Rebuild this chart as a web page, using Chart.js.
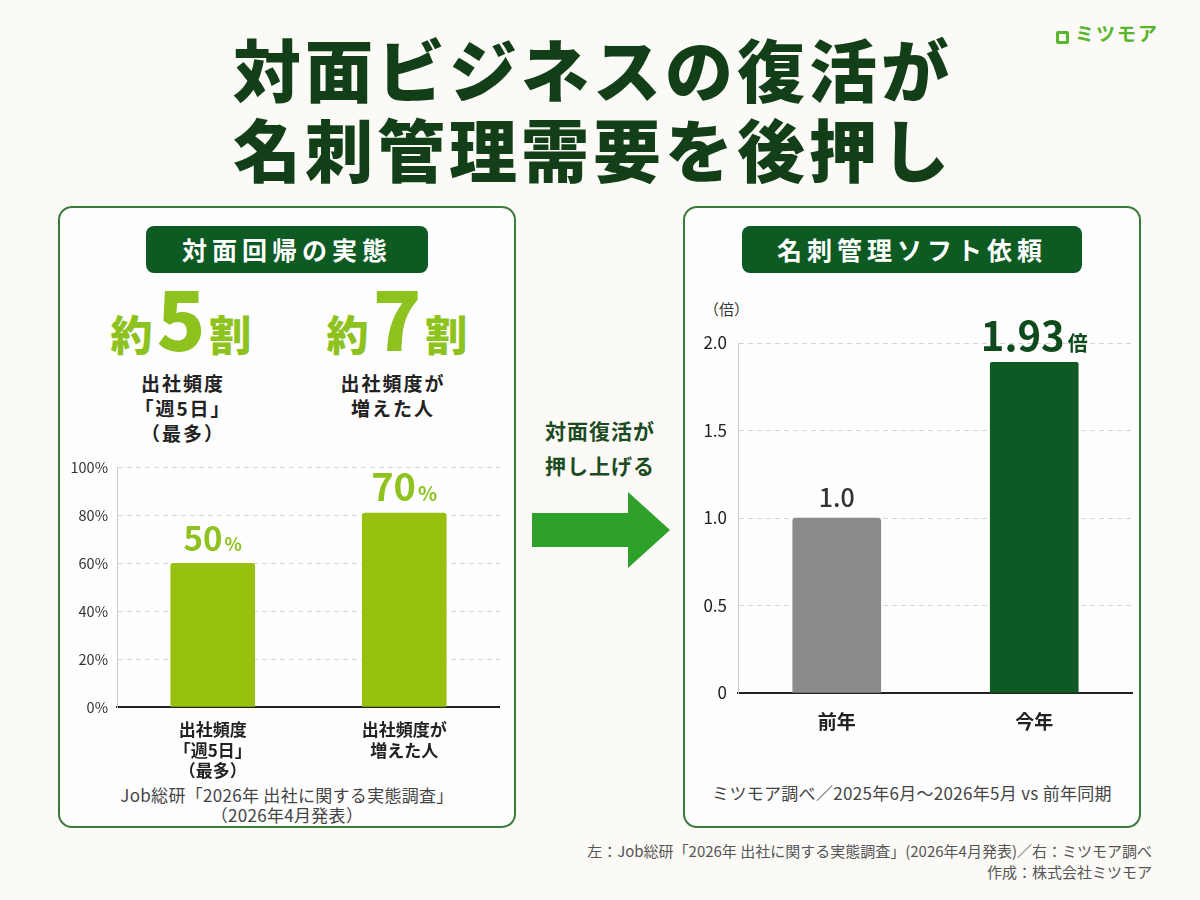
<!DOCTYPE html>
<html lang="ja">
<head>
<meta charset="utf-8">
<title>対面ビジネスの復活が名刺管理需要を後押し</title>
<script src="https://cdn.jsdelivr.net/npm/chart.js@4.4.1/dist/chart.umd.min.js"></script>
<style>
  html, body { margin: 0; padding: 0; }
  body {
    width: 1200px; height: 900px; position: relative; overflow: hidden;
    background: #fbfaf7;
    font-family: "Noto Sans CJK JP", "Noto Sans", sans-serif;
    color: #222;
  }
  .abs { position: absolute; }
  .title {
    left: 0; width: 1186px; text-align: center;
    font-size: 68px; font-weight: 900; color: #123f17;
    letter-spacing: 4px; line-height: 80px;
  }
  .logo { left: 1056px; top: 19px; font-size: 19px; font-weight: 700; color: #58b52c; letter-spacing: 2px; }
  .logo i {
    display: inline-block; width: 13px; height: 13px; border: 3px solid #58b52c;
    border-radius: 2px; margin-right: 6px; vertical-align: -3px; box-sizing: border-box;
  }
  .panel {
    top: 206px; width: 458px; height: 622px; box-sizing: border-box;
    border: 2px solid #3c7a3c; border-radius: 14px; background: #fefefe;
  }
  .badge {
    top: 226px; height: 47px; border-radius: 8px; background: #0d5a23; color: #fff;
    font-size: 25px; font-weight: 700; line-height: 47px; text-align: center; letter-spacing: 5px;
  }
  .big { top: 276px; width: 220px; text-align: center; color: #8dc21f; font-weight: 900; white-space: nowrap; }
  .big .k { font-size: 42px; }
  .big .n { font-size: 80px; margin: 0 4px; line-height: 80px; }
  .sub {
    top: 370px; width: 200px; text-align: center; font-size: 19px; font-weight: 700;
    line-height: 25px; letter-spacing: 2px; color: #222;
  }
  .src { text-align: center; font-size: 17px; color: #444; line-height: 20px; letter-spacing: 0.3px; }
  .arrowtxt {
    left: 520px; top: 413px; width: 160px; text-align: center; font-size: 21px; font-weight: 700;
    color: #1c4a22; line-height: 35px; letter-spacing: 1px;
  }
  .foot { right: 48px; text-align: right; font-size: 15px; color: #555; line-height: 21px; }
  canvas { position: absolute; }
</style>
</head>
<body>
  <div class="abs logo"><i></i>ミツモア</div>
  <div class="abs title" style="top:28px;">対面ビジネスの復活が</div>
  <div class="abs title" style="top:108px;">名刺管理需要を後押し</div>

  <div class="abs panel" style="left:58px;"></div>
  <div class="abs panel" style="left:683px;"></div>

  <div class="abs badge" style="left:146px; width:282px;">対面回帰の実態</div>
  <div class="abs badge" style="left:742px; width:340px;">名刺管理ソフト依頼</div>

  <div class="abs big" style="left:71px;"><span class="k">約</span><span class="n">5</span><span class="k">割</span></div>
  <div class="abs big" style="left:287px;"><span class="k">約</span><span class="n">7</span><span class="k">割</span></div>
  <div class="abs sub" style="left:83px;">出社頻度<br>「週5日」<br>（最多）</div>
  <div class="abs sub" style="left:293px;">出社頻度が<br>増えた人</div>

  <canvas id="leftChart" width="438" height="332" style="left:62px; top:450px;"></canvas>
  <div class="abs src" style="left:62px; width:450px; top:785px;">Job総研「2026年 出社に関する実態調査」<br>（2026年4月発表）</div>

  <div class="abs arrowtxt">対面復活が<br>押し上げる</div>
  <svg class="abs" style="left:530px; top:490px;" width="142" height="80">
    <polygon points="2,23 98,23 98,2 140,40 98,78 98,57 2,57" fill="#2ea12b"/>
  </svg>

  <div class="abs" style="left:704px; top:298px; font-size:15px; color:#333;">（倍）</div>
  <canvas id="rightChart" width="446" height="423" style="left:687px; top:320px;"></canvas>
  <div class="abs src" style="left:683px; width:458px; top:783px;">ミツモア調べ／2025年6月～2026年5月 vs 前年同期</div>

  <div class="abs foot" style="top:840px;">左：Job総研「2026年 出社に関する実態調査」(2026年4月発表)／右：ミツモア調べ<br>作成：株式会社ミツモア</div>

<script>
// Chart data
const FONT = '"Noto Sans CJK JP", "Noto Sans", sans-serif';

const leftCategories = [['出社頻度', '「週5日」', '（最多）'], ['出社頻度が', '増えた人']];
const leftValues = [60, 81];
const leftLabelMain = ['50', '70'];
const leftLabelUnit = ['%', '%'];
const leftTicks = [0, 20, 40, 60, 80, 100];

const rightCategories = ['前年', '今年'];
const rightValues = [1.0, 1.89];
const rightLabelMain = ['1.0', '1.93'];
const rightLabelUnit = ['', '倍'];
const rightTicks = [0, 0.5, 1.0, 1.5, 2.0];

// Draws the value label above each bar (number + smaller unit)
const valueLabelPlugin = {
    id: 'valueLabels',
    afterDatasetsDraw(chart, args, opts) {
        const ctx = chart.ctx;
        const meta = chart.getDatasetMeta(0);
        meta.data.forEach(function(bar, i) {
            const main = opts.main[i];
            const unit = opts.unit[i];
            ctx.save();
            ctx.font = `${opts.weight[i]} ${opts.mainSize[i]}px ${FONT}`;
            const w1 = ctx.measureText(main).width;
            let w2 = 0;
            if (unit) {
                ctx.font = `${opts.weight[i]} ${opts.unitSize[i]}px ${FONT}`;
                w2 = ctx.measureText(unit).width + opts.gap;
            }
            let x = bar.x - (w1 + w2) / 2;
            const y = bar.y - opts.offset;
            ctx.textBaseline = 'alphabetic';
            ctx.textAlign = 'left';
            ctx.fillStyle = opts.color[i];
            ctx.font = `${opts.weight[i]} ${opts.mainSize[i]}px ${FONT}`;
            ctx.fillText(main, x, y);
            if (unit) {
                ctx.font = `${opts.weight[i]} ${opts.unitSize[i]}px ${FONT}`;
                ctx.fillText(unit, x + w1 + opts.gap, y);
            }
            ctx.restore();
        });
    }
};

function tickSetter(values) {
    return function(scale) {
        scale.ticks = values.map(v => ({ value: v }));
    };
}

// Left chart: 対面回帰の実態
new Chart(document.getElementById('leftChart'), {
    type: 'bar',
    data: {
        labels: leftCategories,
        datasets: [{
            data: leftValues,
            backgroundColor: '#97c00f',
            borderRadius: 3,
            barThickness: 84
        }]
    },
    options: {
        responsive: false,
        animation: false,
        layout: { padding: { top: 15, right: 0, bottom: 0, left: 0 } },
        plugins: {
            legend: { display: false },
            tooltip: { enabled: false },
            valueLabels: {
                main: leftLabelMain,
                unit: leftLabelUnit,
                mainSize: [33, 38],
                unitSize: [18, 20],
                weight: [700, 700],
                color: ['#8dc21f', '#8dc21f'],
                gap: 2,
                offset: 12
            }
        },
        scales: {
            x: {
                grid: { display: false },
                border: { color: '#222', width: 2 },
                ticks: {
                    color: '#222',
                    padding: 4,
                    font: { family: FONT, size: 17, weight: 700, lineHeight: 1.22 }
                },
                afterFit: function(s) { s.height = 75; }
            },
            y: {
                min: 0,
                max: 100,
                afterBuildTicks: tickSetter(leftTicks),
                grid: { color: '#d6d6d6', drawTicks: false, tickLength: 0 },
                border: { color: '#c8c8c8', width: 1, dash: [5, 4] },
                ticks: {
                    color: '#333',
                    padding: 9,
                    font: { family: FONT, size: 14.5 },
                    callback: v => v + '%'
                },
                afterFit: function(s) { s.width = 55; }
            }
        }
    },
    plugins: [valueLabelPlugin]
});

// Right chart: 名刺管理ソフト依頼
new Chart(document.getElementById('rightChart'), {
    type: 'bar',
    data: {
        labels: rightCategories,
        datasets: [{
            data: rightValues,
            backgroundColor: ['#8b898c', '#0d5a24'],
            borderRadius: [3, 2],
            barThickness: 88
        }]
    },
    options: {
        responsive: false,
        animation: false,
        layout: { padding: { top: 23, right: 0, bottom: 0, left: 0 } },
        plugins: {
            legend: { display: false },
            tooltip: { enabled: false },
            valueLabels: {
                main: rightLabelMain,
                unit: rightLabelUnit,
                mainSize: [25, 40],
                unitSize: [20, 20],
                weight: [500, 700],
                color: ['#333', '#0f4a1d'],
                gap: 3,
                offset: 11
            }
        },
        scales: {
            x: {
                grid: { display: false },
                border: { color: '#222', width: 2 },
                ticks: {
                    color: '#222',
                    padding: 9,
                    font: { family: FONT, size: 19, weight: 700 }
                },
                afterFit: function(s) { s.height = 50; }
            },
            y: {
                min: 0,
                max: 2,
                afterBuildTicks: tickSetter(rightTicks),
                grid: { color: '#d6d6d6', drawTicks: false, tickLength: 0 },
                border: { color: '#c8c8c8', width: 1, dash: [5, 4] },
                ticks: {
                    color: '#222',
                    padding: 11,
                    font: { family: FONT, size: 17 },
                    callback: v => (v === 0 ? '0' : v.toFixed(1))
                },
                afterFit: function(s) { s.width = 51; }
            }
        }
    },
    plugins: [valueLabelPlugin]
});
</script>
</body>
</html>
